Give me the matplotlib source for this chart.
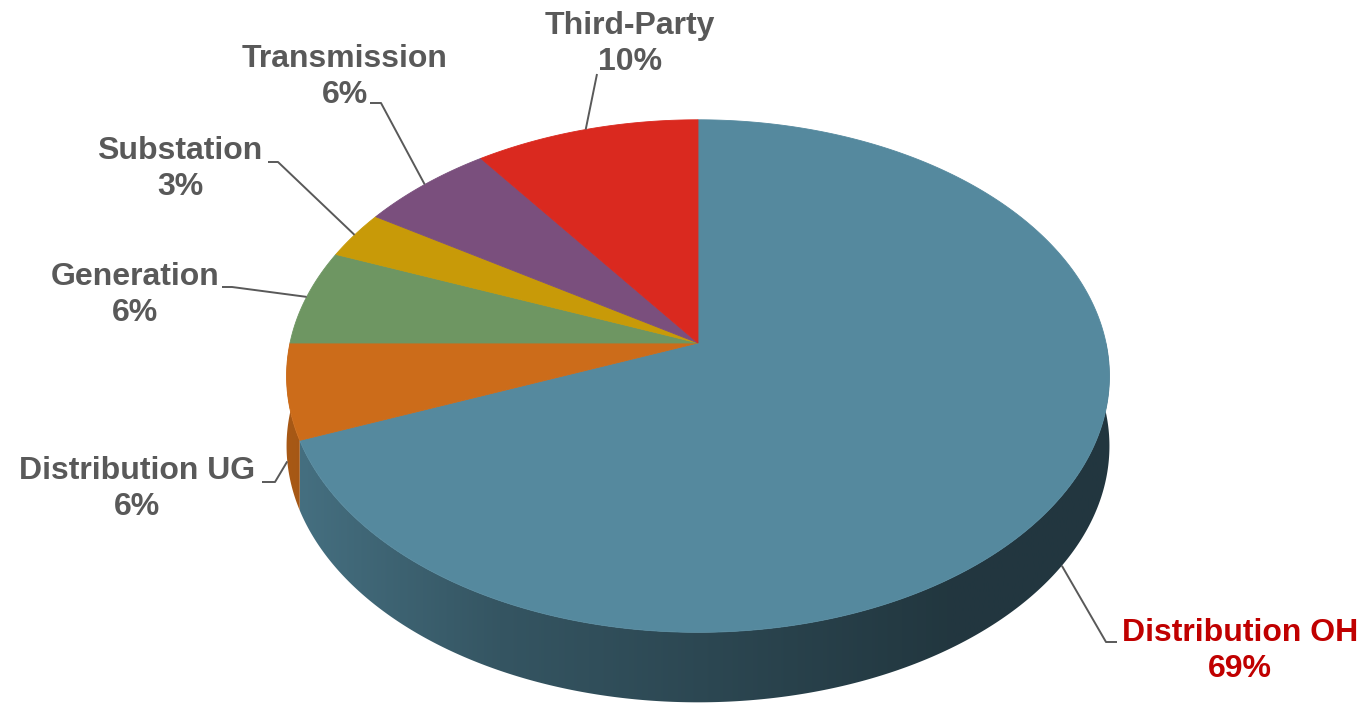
"""
3D pie: outage causes by category (Excel-style perspective pie)
"""
import numpy as np
import matplotlib
matplotlib.use('Agg')
import matplotlib.pyplot as plt
from matplotlib.patches import Polygon

# data
categories = ['Distribution OH', 'Distribution UG', 'Generation',
              'Substation', 'Transmission', 'Third-Party']
shares = [69, 6, 6, 3, 6, 10]
colors = ['#55899E', '#CC6C1A', '#6E9662', '#C89A08', '#7A4F7D', '#DA291F']
label_colors = ['#C00000', '#595959', '#595959', '#595959', '#595959', '#595959']

# layout (pixels, y down)
CX, CY = 698, 343        # pie vertex
RX, RY = 408, 252        # radii of the top face
K = 0.129                # perspective strength
DEPTH = 70               # thickness of the pie
label_xy = [(1240, 651), (137, 489), (135, 295), (180, 169), (345, 77), (630, 44)]
elbow_xy = [[(1117, 642), (1106, 642)], [(262, 482), (275, 482)],
            [(222, 287), (232, 287)], [(268, 162), (278, 162)],
            [(370, 103), (381, 103)], [(597, 74)]]


def project(theta_deg, drop=0.0):
    t = np.radians(theta_deg)
    u, v = np.cos(t), np.sin(t)
    w = 1 + K * v
    return CX + RX * u / w, CY - RY * v / w + drop


fig = plt.figure(figsize=(13.66, 7.06), dpi=100)
ax = fig.add_axes([0, 0, 1, 1])
ax.set_xlim(0, 1366)
ax.set_ylim(706, 0)
ax.axis('off')

# slice angles: start at 12 o'clock, go clockwise
total = float(sum(shares))
bounds = 90 - 360 * np.concatenate([[0], np.cumsum(shares)]) / total
spans = [(bounds[i + 1], bounds[i]) for i in range(len(shares))]   # (low, high) in degrees

# horizontal shading of the outer wall
gx = np.linspace(0, 1366, 700)
shade = np.interp(gx, [290, 500, 950], [0.82, 0.62, 0.40])

# outer wall (only the front half, 180..360 deg, is visible)
for (lo, hi), col in zip(spans, colors):
    lo_n, hi_n = lo % 360, hi % 360
    if hi_n <= lo_n:
        hi_n += 360
    a0, a1 = max(lo_n, 180), min(hi_n, 360)
    if a1 <= a0:
        continue
    arc = np.linspace(a0, a1, int((a1 - a0) * 3) + 2)
    top = [project(a) for a in arc]
    bot = [project(a, DEPTH) for a in arc[::-1]]
    poly = Polygon(top + bot, closed=True, facecolor='none', edgecolor='none')
    ax.add_patch(poly)
    rgb = np.array(matplotlib.colors.to_rgb(col))
    grad = (shade[:, None] * rgb[None, :])[None, :, :]
    im = ax.imshow(grad, extent=(0, 1366, 706, 0), aspect='auto',
                   interpolation='bilinear', zorder=1)
    im.set_clip_path(poly)

# top faces
for (lo, hi), col in zip(spans, colors):
    arc = np.linspace(lo, hi, max(int((hi - lo) * 2), 4))
    pts = [(CX, CY)] + [project(a) for a in arc]
    ax.add_patch(Polygon(pts, closed=True, facecolor=col, edgecolor=col,
                         lw=0.6, zorder=2))

# labels with leader lines
for i, (name, pct) in enumerate(zip(categories, shares)):
    lo, hi = spans[i]
    mid = (lo + hi) / 2
    front = np.sin(np.radians(mid)) < 0
    anchor = project(mid, DEPTH if front else 0)
    path = list(elbow_xy[i]) + [anchor]
    xs, ys = zip(*path)
    ax.plot(xs, ys, color='#595959', lw=1.4, solid_capstyle='butt', zorder=3)
    ax.text(label_xy[i][0], label_xy[i][1], f'{name}\n{pct}%',
            ha='center', va='center', fontsize=23, fontweight='bold',
            color=label_colors[i], family=['Liberation Sans', 'DejaVu Sans'],
            linespacing=1.3, zorder=4)

ax.set_xlim(0, 1366)
ax.set_ylim(706, 0)
fig.savefig('out.png', dpi=100)
